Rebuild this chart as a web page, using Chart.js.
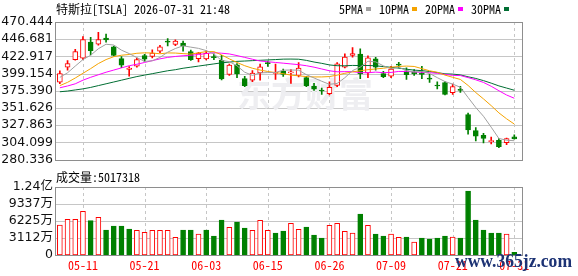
<!DOCTYPE html>
<html>
<head>
<meta charset="utf-8">
<script src="https://cdn.jsdelivr.net/npm/chart.js@4.4.1/dist/chart.umd.min.js"></script>
<style>
  html, body { margin: 0; padding: 0; background: #fff; }
  #wrap { position: relative; width: 578px; height: 276px; overflow: hidden; }
  #wrap canvas { position: absolute; left: 0; }
  #price-chart { top: 0; }
  #volume-chart { top: 170px; }
</style>
</head>
<body>
<div id="wrap">
  <canvas id="price-chart" width="578" height="170"></canvas>
  <canvas id="volume-chart" width="578" height="106"></canvas>
</div>
<script>
const dates = [
  '05-06', '05-07', '05-08', '05-11', '05-12', '05-13', '05-14', '05-15', '05-18', '05-19',
  '05-20', '05-21', '05-22', '05-26', '05-27', '05-28', '05-29', '06-01', '06-02', '06-03',
  '06-04', '06-05', '06-08', '06-09', '06-10', '06-11', '06-12', '06-15', '06-16', '06-17',
  '06-18', '06-22', '06-23', '06-24', '06-25', '06-26', '06-29', '06-30', '07-01', '07-02',
  '07-06', '07-07', '07-08', '07-09', '07-10', '07-13', '07-14', '07-15', '07-16', '07-17',
  '07-20', '07-21', '07-22', '07-23', '07-24', '07-27', '07-28', '07-29', '07-30', '07-31',
];
const xTickDates = ['05-11', '05-21', '06-03', '06-15', '06-26', '07-09', '07-21', '07-31'];

const opens = [
  387.2, 408.1, 418.4, 420.5, 442.7, 439.7, 448.1, 436.1, 419.7, 404.8,
  409.5, 424.1, 422.8, 430.1, 443.6, 439.4, 441.4, 429.4, 419.7, 419.5,
  422.0, 417.5, 397.9, 411.2, 392.2, 389.9, 400.1, 413.5, 399.5, 402.5,
  400.0, 396.6, 393.5, 382.0, 375.5, 371.4, 382.9, 408.0, 424.1, 426.1,
  400.1, 419.4, 399.2, 395.7, 411.5, 402.8, 401.2, 399.5, 393.0, 382.7,
  386.8, 372.6, 376.5, 342.6, 320.3, 313.6, 305.0, 307.0, 303.5, 311.6,
];
const highs = [
  402.8, 417.0, 432.5, 450.3, 449.4, 456.1, 453.8, 437.0, 422.8, 408.8,
  420.5, 425.8, 432.1, 438.3, 447.5, 445.8, 444.1, 431.7, 428.5, 430.5,
  426.3, 424.5, 412.1, 413.1, 395.2, 403.2, 412.1, 416.5, 412.3, 405.5,
  404.5, 414.4, 395.2, 385.5, 379.0, 387.8, 414.4, 426.4, 435.2, 433.4,
  423.7, 421.5, 402.4, 409.1, 414.8, 407.0, 404.5, 409.1, 398.0, 387.8,
  388.2, 384.6, 381.5, 344.6, 324.5, 316.6, 311.4, 309.4, 310.0, 314.4,
];
const lows = [
  385.1, 403.7, 417.5, 418.4, 425.0, 438.3, 442.7, 423.7, 407.2, 395.5,
  408.1, 416.1, 420.8, 428.1, 437.5, 437.8, 430.1, 417.4, 415.2, 418.0,
  418.4, 390.2, 396.6, 393.5, 381.1, 387.8, 389.9, 409.0, 391.2, 395.2,
  385.5, 394.4, 381.1, 375.8, 370.4, 369.5, 381.1, 406.8, 421.8, 392.2,
  393.5, 403.7, 393.5, 393.5, 406.8, 391.0, 396.6, 392.2, 386.8, 378.0,
  369.5, 370.4, 373.0, 315.2, 306.0, 303.3, 302.0, 296.7, 301.0, 308.5,
];
const closes = [
  399.2, 413.0, 429.4, 446.3, 430.7, 446.3, 445.8, 424.1, 410.8, 406.8,
  418.4, 418.9, 427.4, 436.1, 442.6, 444.1, 437.4, 418.4, 427.6, 427.0,
  421.2, 391.6, 411.0, 398.8, 382.4, 399.7, 408.5, 413.0, 400.0, 397.9,
  401.3, 406.8, 382.0, 377.6, 375.0, 380.2, 412.6, 421.8, 426.8, 398.8,
  421.0, 408.1, 394.8, 405.5, 410.8, 397.5, 398.5, 398.0, 391.5, 382.0,
  370.4, 381.1, 375.8, 321.2, 312.7, 309.6, 305.6, 298.0, 309.3, 308.8,
];

const ma5 = [
  393.9, 400.2, 409.5, 418.5, 424.5, 433.5, 439.7, 438.6, 431.5, 426.8,
  421.2, 416.0, 416.8, 421.5, 428.7, 433.8, 437.5, 435.7, 434.0, 430.9,
  426.3, 417.2, 415.7, 409.9, 401.0, 396.7, 400.1, 400.5, 400.7, 403.8,
  404.1, 403.8, 397.6, 393.1, 388.5, 384.3, 385.5, 393.4, 403.3, 408.0,
  416.2, 415.3, 409.9, 405.6, 408.0, 403.3, 401.4, 402.1, 399.3, 393.5,
  388.1, 384.6, 380.2, 366.1, 352.2, 340.1, 325.0, 309.4, 307.0, 306.3,
];
const ma10 = [
  382.5, 387.0, 393.0, 399.5, 406.0, 413.0, 418.5, 422.5, 424.5, 425.5,
  427.2, 427.8, 427.6, 426.5, 427.7, 427.5, 426.7, 426.1, 427.8, 429.5,
  429.5, 425.0, 419.5, 414.5, 410.0, 406.5, 404.0, 402.0, 400.5, 399.0,
  397.0, 396.0, 395.0, 394.5, 394.5, 395.0, 397.0, 399.5, 401.5, 403.0,
  404.5, 405.5, 406.5, 408.0, 409.0, 409.5, 409.0, 406.0, 403.0, 401.0,
  397.0, 394.0, 391.0, 382.7, 372.9, 364.1, 354.8, 344.8, 336.6, 329.3,
];
const ma20 = [
  379.5, 382.0, 385.0, 390.0, 394.0, 397.5, 401.0, 404.0, 407.0, 410.0,
  412.0, 414.5, 417.0, 419.5, 421.5, 422.8, 423.8, 424.5, 425.5, 426.8,
  428.0, 427.3, 426.3, 424.0, 421.5, 419.0, 416.5, 415.5, 414.5, 413.5,
  412.5, 411.5, 410.0, 408.0, 405.5, 403.0, 401.6, 401.8, 401.8, 400.4,
  400.3, 401.2, 400.4, 400.7, 402.1, 402.0, 401.5, 400.8, 400.3, 399.5,
  398.0, 396.7, 396.4, 393.6, 390.5, 386.9, 381.6, 375.4, 369.5, 365.0,
];
const ma30 = [
  374.0, 375.0, 376.5, 378.0, 380.0, 382.5, 385.0, 387.5, 390.0, 392.5,
  395.0, 397.0, 399.0, 401.0, 403.0, 404.5, 406.5, 408.0, 409.5, 411.0,
  412.5, 414.0, 415.0, 416.0, 416.5, 417.0, 417.5, 418.0, 418.5, 419.1,
  419.2, 419.0, 417.4, 415.1, 413.3, 411.1, 410.0, 409.9, 410.4, 410.2,
  410.3, 409.9, 408.8, 407.8, 406.7, 405.2, 403.9, 403.2, 402.0, 400.5,
  398.8, 398.4, 397.3, 394.7, 392.4, 389.4, 385.9, 382.1, 379.1, 376.1,
];

const volumes = [
  54900000, 65300000, 65300000, 80000000, 62800000, 69000000, 45800000, 53000000, 53000000, 47600000,
  45200000, 41500000, 45200000, 45200000, 45200000, 32400000, 45800000, 45800000, 38200000, 45800000,
  34800000, 64000000, 50600000, 60400000, 49400000, 45200000, 63500000, 45200000, 40300000, 43900000,
  58000000, 47000000, 51300000, 36600000, 31100000, 54300000, 58000000, 43300000, 40300000, 75000000,
  54300000, 38400000, 34800000, 38400000, 32400000, 33000000, 23800000, 31100000, 29300000, 31100000,
  34800000, 33000000, 31100000, 117000000, 64000000, 45800000, 40300000, 40300000, 38400000, 5017318,
];

const priceTicks = [280.336, 304.099, 327.863, 351.626, 375.390, 399.154, 422.917, 446.681, 470.444];
const volTicks = [0, 31120000, 62250000, 93370000, 124490000];
const volTickLabels = ['0', '3112万', '6225万', '9337万', '1.24亿'];

const maSeries = [
  { label: '5PMA', values: ma5, color: '#a0a0a0' },
  { label: '10PMA', values: ma10, color: '#f5a300' },
  { label: '20PMA', values: ma20, color: '#ff00ff' },
  { label: '30PMA', values: ma30, color: '#006e33' },
];

const UP = '#ff0000';
const DOWN = '#008000';
const GRID = '#c6c6c6';
const FRAME = '#8e8e8e';
const MONO = '"Noto Sans Mono CJK SC", "Noto Sans CJK SC", monospace';
const AXIS_FONT = '"DejaVu Sans", "Noto Sans CJK SC", sans-serif';

const candleUp = (i) => closes[i] >= opens[i];
const volumeUp = (i) => i === 0 || closes[i] >= closes[i - 1];

// grid and frame filled as 1px rectangles so they land on whole pixels
function drawPanel(chart, yTicks) {
  const { ctx, chartArea: a } = chart;
  const xs = chart.scales.x;
  const ys = chart.scales.y;
  const left = Math.round(a.left);
  const right = Math.round(a.right);
  const top = Math.round(a.top);
  const bottom = Math.round(a.bottom);
  ctx.save();
  ctx.fillStyle = GRID;
  yTicks.forEach((v) => {
    const y = Math.round(ys.getPixelForValue(v));
    ctx.fillRect(left, y, right - left, 1);
  });
  xTickDates.forEach((d) => {
    const x = Math.round(xs.getPixelForValue(dates.indexOf(d)));
    for (let y = top; y < bottom; y += 6) {
      ctx.fillRect(x, y, 1, Math.min(3, bottom - y));
    }
  });
  ctx.restore();
}

function drawFrame(chart) {
  const { ctx, chartArea: a } = chart;
  const left = Math.round(a.left) - 1;
  const right = Math.round(a.right);
  const top = Math.round(a.top);
  const bottom = Math.round(a.bottom);
  ctx.save();
  ctx.fillStyle = FRAME;
  ctx.fillRect(left, top, right - left + 1, 1);
  ctx.fillRect(left, bottom, right - left + 1, 1);
  ctx.fillRect(left, top, 1, bottom - top + 1);
  ctx.fillRect(right, top, 1, bottom - top + 1);
  ctx.restore();
}

const priceOverlay = {
  id: 'priceOverlay',
  beforeDatasetsDraw(chart) {
    const { ctx } = chart;
    drawPanel(chart, priceTicks);
    ctx.save();
    ctx.fillStyle = '#eeeef1';
    ctx.font = 'bold 34px "Noto Sans CJK SC"';
    ctx.textBaseline = 'middle';
    ctx.fillText('东方财富', 237, 94);
    ctx.restore();
  },
  afterDraw(chart) {
    const { ctx } = chart;
    drawFrame(chart);
    ctx.save();
    ctx.font = '12px ' + MONO;
    ctx.textBaseline = 'middle';
    ctx.fillStyle = '#000';
    ctx.fillText('特斯拉[TSLA] 2026-07-31 21:48', 56, 9);

    let x = 339;
    maSeries.forEach((s) => {
      ctx.fillStyle = '#000';
      ctx.fillText(s.label, x, 9);
      x += ctx.measureText(s.label).width + 3;
      ctx.fillStyle = s.color;
      ctx.fillRect(x, 7, 5, 4);
      x += 5 + 8;
    });
    ctx.restore();
  },
};

const volumeOverlay = {
  id: 'volumeOverlay',
  beforeDatasetsDraw(chart) {
    drawPanel(chart, volTicks);
  },
  afterDraw(chart) {
    const { ctx } = chart;
    drawFrame(chart);
    ctx.save();
    ctx.font = '12px ' + MONO;
    ctx.textBaseline = 'middle';
    ctx.fillStyle = '#000';
    ctx.fillText('成交量:' + volumes[volumes.length - 1], 56, 7);

    ctx.font = 'bold 19px "Liberation Serif"';
    ctx.textBaseline = 'alphabetic';
    ctx.fillStyle = '#1c3274';
    ctx.fillText('www.365jz.com', 455, 97, 117);
    ctx.restore();
  },
};

function xScale(showLabels) {
  return {
    type: 'linear',
    min: -0.5,
    max: 60,
    offset: false,
    afterBuildTicks(scale) {
      scale.ticks = xTickDates.map((d) => ({ value: dates.indexOf(d) }));
    },
    afterFit(scale) {
      scale.height = showLabels ? 21 : 0;
    },
    grid: { display: false, drawTicks: false, offset: false },
    border: { display: false },
    ticks: {
      display: showLabels,
      autoSkip: false,
      maxRotation: 0,
      padding: 3,
      color: UP,
      font: { family: MONO, size: 12 },
      callback: (v) => dates[v],
    },
  };
}

function yScale(ticks, format) {
  return {
    min: ticks[0],
    max: ticks[ticks.length - 1],
    afterBuildTicks(scale) {
      scale.ticks = ticks.map((v) => ({ value: v }));
    },
    afterFit(scale) {
      scale.width = 56;
    },
    grid: { display: false, drawTicks: false },
    border: { display: false },
    ticks: {
      autoSkip: false,
      padding: 3,
      color: '#111',
      font: { family: AXIS_FONT, size: 12.5 },
      callback: format,
    },
  };
}

const baseOptions = {
  responsive: false,
  animation: false,
  devicePixelRatio: 1,
  events: [],
  plugins: { legend: { display: false }, tooltip: { enabled: false } },
};

function renderPriceChart() {
  const wicks = {
    type: 'bar',
    data: dates.map((d, i) => ({ x: i, y: [lows[i], highs[i]] })),
    backgroundColor: dates.map((d, i) => (candleUp(i) ? UP : DOWN)),
    barThickness: 1,
    grouped: false,
    order: 3,
  };
  const bodies = {
    type: 'bar',
    data: dates.map((d, i) => ({ x: i, y: [opens[i], closes[i]] })),
    backgroundColor: dates.map((d, i) => (candleUp(i) ? '#ffffff' : DOWN)),
    borderColor: dates.map((d, i) => (candleUp(i) ? UP : DOWN)),
    borderWidth: 1,
    borderSkipped: false,
    barThickness: 5,
    minBarLength: 1,
    grouped: false,
    order: 2,
  };
  const lines = maSeries.map((s) => ({
    type: 'line',
    data: s.values.map((v, i) => ({ x: i, y: v })),
    borderColor: s.color,
    borderWidth: 1,
    pointRadius: 0,
    tension: 0,
    order: 1,
  }));

  new Chart(document.getElementById('price-chart'), {
    type: 'bar',
    data: { datasets: [wicks, bodies, ...lines] },
    options: {
      ...baseOptions,
      layout: { padding: { left: 0, right: 56, top: 22, bottom: 5 } },
      scales: {
        x: xScale(false),
        y: yScale(priceTicks, (v) => v.toFixed(3)),
      },
    },
    plugins: [priceOverlay],
  });
}

function renderVolumeChart() {
  new Chart(document.getElementById('volume-chart'), {
    type: 'bar',
    data: {
      datasets: [{
        data: volumes.map((v, i) => ({ x: i, y: v })),
        backgroundColor: volumes.map((v, i) => (volumeUp(i) ? '#ffffff' : DOWN)),
        borderColor: volumes.map((v, i) => (volumeUp(i) ? UP : DOWN)),
        borderWidth: 1,
        borderSkipped: false,
        barThickness: 5,
      }],
    },
    options: {
      ...baseOptions,
      layout: { padding: { left: 0, right: 56, top: 17, bottom: 0 } },
      scales: {
        x: xScale(true),
        y: yScale(volTicks, (v, idx) => volTickLabels[idx]),
      },
    },
    plugins: [volumeOverlay],
  });
}

document.addEventListener('DOMContentLoaded', () => {
  renderPriceChart();
  renderVolumeChart();
});
</script>
</body>
</html>
